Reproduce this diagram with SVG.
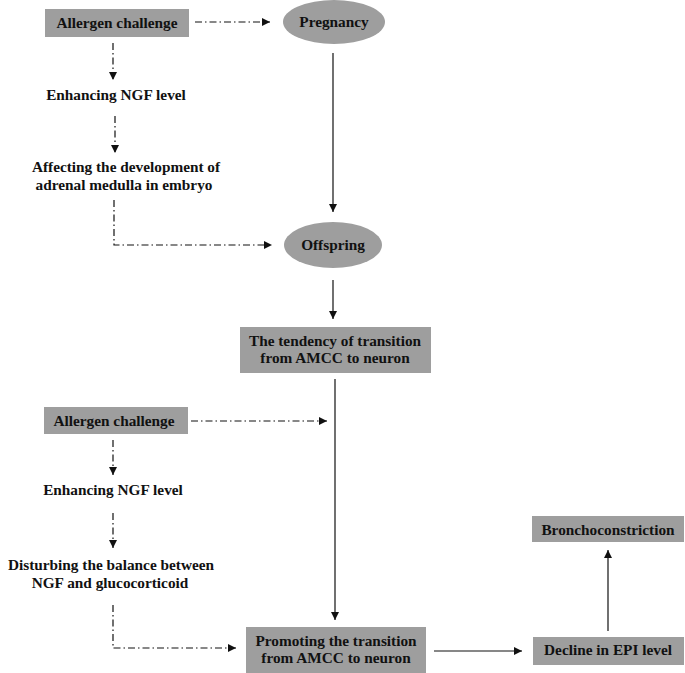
<svg xmlns="http://www.w3.org/2000/svg" width="685" height="673" viewBox="0 0 685 673">
<style>
.box{fill:#9e9e9e;}
.t{font-family:"Liberation Serif","Times New Roman",serif;font-weight:bold;font-size:15.3px;fill:#111;text-anchor:middle;}
.s{fill:none;stroke:#111;stroke-width:1.2;}
.d{fill:none;stroke:#111;stroke-width:1.2;stroke-dasharray:7 3 1.5 3;}
</style>
<defs>
<marker id="ah" viewBox="0 0 10 10" refX="10" refY="5" markerWidth="8" markerHeight="8" markerUnits="userSpaceOnUse" orient="auto">
<path d="M0,0 L10,5 L0,10 Z" fill="#111"/>
</marker>
</defs>
<rect width="685" height="673" fill="#fff"/>
<g id="connectors">
<path class="d" d="M195,22 H270" marker-end="url(#ah)"/>
<path class="d" d="M113,43 V80" marker-end="url(#ah)"/>
<path class="d" d="M115,116 V153" marker-end="url(#ah)"/>
<path class="d" d="M114,200 V245 H272" marker-end="url(#ah)"/>
<path class="s" d="M333,53 V212" marker-end="url(#ah)"/>
<path class="s" d="M333,280 V319" marker-end="url(#ah)"/>
<path class="s" d="M335,379 V620" marker-end="url(#ah)"/>
<path class="d" d="M191,421 H327" marker-end="url(#ah)"/>
<path class="d" d="M113,440 V475" marker-end="url(#ah)"/>
<path class="d" d="M113,513 V548" marker-end="url(#ah)"/>
<path class="d" d="M113,605 V648 H236" marker-end="url(#ah)"/>
<path class="s" d="M434,651 H522" marker-end="url(#ah)"/>
<path class="s" d="M608,631 V550" marker-end="url(#ah)"/>
</g>
<g id="allergen1"><rect class="box" x="45" y="9" width="144" height="28"/><text class="t" x="117" y="28">Allergen challenge</text></g>
<g id="pregnancy"><ellipse class="box" cx="334" cy="22" rx="51" ry="22"/><text class="t" x="334" y="27">Pregnancy</text></g>
<g id="ngf1"><text class="t" x="116" y="100">Enhancing NGF level</text></g>
<g id="affecting"><text class="t" x="126" y="172">Affecting the development of</text><text class="t" x="124" y="190">adrenal medulla in embryo</text></g>
<g id="offspring"><ellipse class="box" cx="333" cy="245" rx="49" ry="23"/><text class="t" x="333" y="250">Offspring</text></g>
<g id="tendency"><rect class="box" x="240" y="327" width="191" height="46"/><text class="t" x="335" y="346">The tendency of transition</text><text class="t" x="335" y="363">from AMCC to neuron</text></g>
<g id="allergen2"><rect class="box" x="44" y="407" width="144" height="27"/><text class="t" x="114" y="426">Allergen challenge</text></g>
<g id="ngf2"><text class="t" x="113" y="495">Enhancing NGF level</text></g>
<g id="disturbing"><text class="t" x="111" y="570">Disturbing the balance between</text><text class="t" x="110" y="588">NGF and glucocorticoid</text></g>
<g id="promoting"><rect class="box" x="246" y="627" width="180" height="46"/><text class="t" x="336" y="646">Promoting the transition</text><text class="t" x="336" y="663">from AMCC to neuron</text></g>
<g id="decline"><rect class="box" x="533" y="637" width="151" height="28"/><text class="t" x="608" y="655">Decline in EPI level</text></g>
<g id="broncho"><rect class="box" x="532" y="516" width="152" height="26"/><text class="t" x="608" y="535">Bronchoconstriction</text></g>
</svg>
